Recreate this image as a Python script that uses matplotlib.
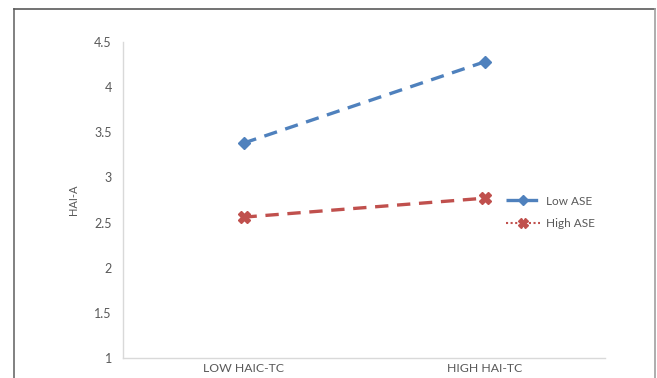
import matplotlib
matplotlib.use("Agg")
import matplotlib.pyplot as plt
from matplotlib.lines import Line2D

plt.rcParams['font.family'] = ['Lato', 'DejaVu Sans']

categories = ["LOW HAIC-TC", "HIGH HAI-TC"]
low_ase = [3.38, 4.28]
high_ase = [2.56, 2.77]
yticks = [1, 1.5, 2, 2.5, 3, 3.5, 4, 4.5]
ytick_labels = ["1", "1.5", "2", "2.5", "3", "3.5", "4", "4.5"]

BLUE = "#4F81BD"
RED = "#C0504D"
TXT = "#595959"

fig = plt.figure(figsize=(6.57, 3.78), dpi=100)
ax = fig.add_axes([0.1872, 0.0529, 0.9209 - 0.1872, 0.8889 - 0.0529])

x = list(range(len(categories)))
ax.plot(x, low_ase, color=BLUE, lw=2.4, ls=(0, (4, 2.6)), marker='D', ms=6,
        mfc=BLUE, mec=BLUE, dash_capstyle='butt')
ax.plot(x, high_ase, color=RED, lw=2.4, ls=(0, (4, 2.6)), marker='X', ms=8,
        mfc=RED, mec=RED, dash_capstyle='butt')

ax.set_xlim(-0.5, 1.5)
ax.set_ylim(1, 4.5)
ax.set_xticks(x)
ax.set_xticklabels(categories, fontsize=8.8, color=TXT)
ax.set_yticks(yticks)
ax.set_yticklabels(ytick_labels, fontsize=9, color=TXT)
ax.tick_params(axis='both', length=0)
ax.tick_params(axis='y', pad=8)
ax.tick_params(axis='x', pad=3.5)

for s in ['top', 'right']:
    ax.spines[s].set_visible(False)
for s in ['left', 'bottom']:
    ax.spines[s].set_color('#D9D9D9')
    ax.spines[s].set_linewidth(1.0)

ax.set_ylabel("HAI-A", fontsize=8, color=TXT, labelpad=11)

handles = [
    Line2D([], [], color=BLUE, lw=2.4, ls=(0, (4, 1.5)), marker='D', ms=5),
    Line2D([], [], color=RED, lw=1.5, ls=(0, (1, 1.2)), marker='X', ms=7),
]
fig.legend(handles, ["Low ASE", "High ASE"], loc='center left',
           bbox_to_anchor=(0.761, 0.438), frameon=False, fontsize=8.5,
           labelcolor=TXT, handlelength=2.9, handletextpad=0.5,
           labelspacing=1.0, borderpad=0)

# outer frame
fig.add_artist(Line2D([0.0213, 0.0213], [0.0, 0.976], color='#6b6b6b', lw=1.2,
                      transform=fig.transFigure))
fig.add_artist(Line2D([0.0213, 0.9977], [0.976, 0.976], color='#5a5a5a', lw=1.2,
                      transform=fig.transFigure))
fig.add_artist(Line2D([0.9977, 0.9977], [0.0, 0.976], color='#a0a0a0', lw=1.2,
                      transform=fig.transFigure))

fig.savefig("out.png", dpi=100)
